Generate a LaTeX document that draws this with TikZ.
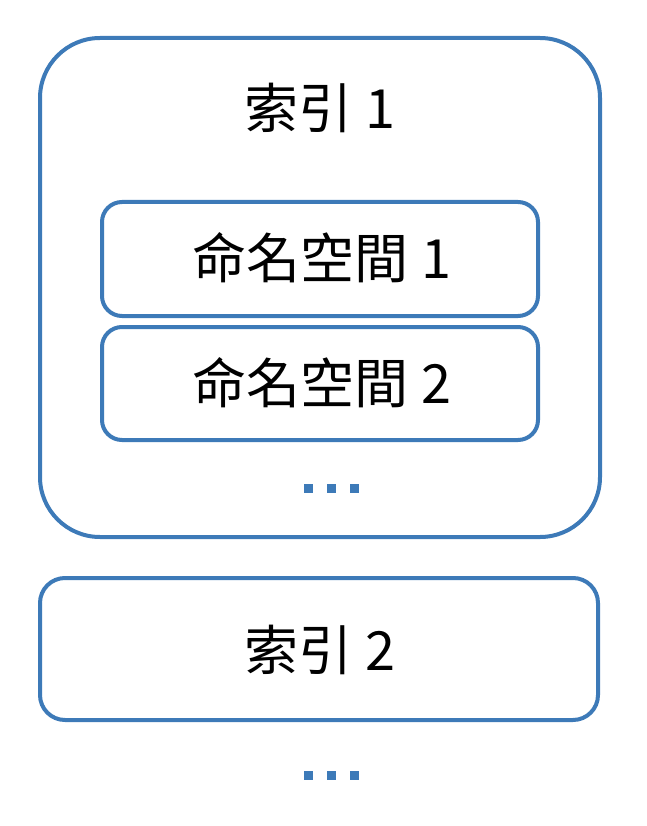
\documentclass[tikz,border=0pt]{standalone}
\usepackage{fontspec}
\setmainfont{Noto Sans CJK TC}
\definecolor{bl}{HTML}{3D7AB8}
\begin{document}
\begin{tikzpicture}[x=1pt,y=-1pt,
 box/.style={draw=bl,line width=4pt,fill=white},
 lbl/.style={font=\fontsize{54}{58}\selectfont,inner sep=0pt},
 dot/.style={fill=bl,minimum size=9pt,inner sep=0pt}]
\useasboundingbox (0,0) rectangle (646,826);
\draw[box,rounded corners=60pt] (40,38) rectangle (600,537);
\node[lbl] (t1) at (320,108) {索引 1};
\draw[box,rounded corners=20pt] (102,202) rectangle (538,316);
\node[lbl] (n1) at (322,258) {命名空間 1};
\draw[box,rounded corners=20pt] (102,327) rectangle (538,440);
\node[lbl] (n2) at (322,383) {命名空間 2};
\node[dot] (d1) at (308,488) {};
\node[dot] (d2) at (331,488) {};
\node[dot] (d3) at (354,488) {};
\draw[box,rounded corners=25pt] (40,578) rectangle (598,720);
\node[lbl] (t2) at (320,650) {索引 2};
\node[dot] (e1) at (308,775) {};
\node[dot] (e2) at (331,775) {};
\node[dot] (e3) at (354,775) {};
\end{tikzpicture}
\end{document}
